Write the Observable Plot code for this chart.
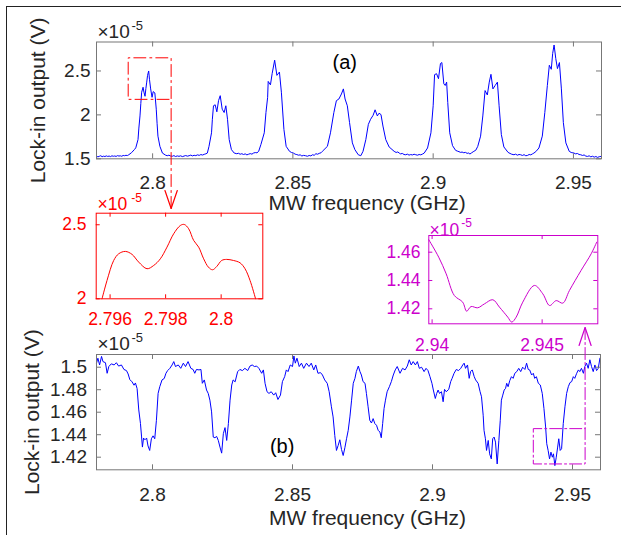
<!DOCTYPE html>
<html>
<head>
<meta charset="utf-8">
<script src="https://cdn.jsdelivr.net/npm/d3@7"></script>
<script src="https://cdn.jsdelivr.net/npm/@observablehq/plot@0.6"></script>
<style>
  html, body { margin: 0; padding: 0; background: #fff; }
  #fig { position: relative; width: 621px; height: 535px; overflow: hidden; background: #fff; }
  #fig svg { position: absolute; left: 0; top: 0; }
  #border { position: absolute; left: 6px; top: 6px; width: 800px; height: 800px; border-left: 1px solid #222; border-top: 1px solid #222; }
</style>
</head>
<body>
<div id="fig"><div id="border"></div></div>
<script>
// ---------------- data ----------------
// Panel (a): lock-in output (×1e-5 V) vs MW frequency (GHz)
const curveA = [
  [2.7800,1.531],[2.7805,1.522],[2.7810,1.528],[2.7815,1.535],[2.7820,1.524],[2.7825,1.530],[2.7830,1.526],[2.7835,1.533],
  [2.7840,1.527],[2.7845,1.531],[2.7850,1.525],[2.7855,1.534],[2.7860,1.529],[2.7865,1.532],[2.7870,1.527],[2.7875,1.536],
  [2.7880,1.531],[2.7885,1.534],[2.7890,1.529],[2.7895,1.538],[2.7900,1.535],[2.7905,1.540],[2.7910,1.537],[2.7915,1.546],
  [2.7925,1.570],[2.7935,1.605],[2.7940,1.625],[2.7948,1.719],[2.7951,1.850],[2.7955,1.988],[2.7958,2.130],[2.7961,2.258],
  [2.7966,2.315],[2.7969,2.260],[2.7973,2.212],[2.7976,2.300],[2.7979,2.373],[2.7982,2.450],[2.7986,2.500],[2.7989,2.400],
  [2.7993,2.296],[2.7998,2.200],[2.8002,2.265],[2.8008,2.250],[2.8013,2.065],[2.8016,1.900],[2.8019,1.758],[2.8026,1.642],
  [2.8035,1.565],[2.8046,1.542],[2.8052,1.535],[2.8058,1.541],[2.8064,1.532],[2.8070,1.529],[2.8076,1.536],[2.8082,1.526],
  [2.8088,1.533],[2.8094,1.528],[2.8100,1.534],[2.8106,1.525],[2.8112,1.531],[2.8118,1.537],[2.8124,1.530],[2.8130,1.535],
  [2.8136,1.542],[2.8142,1.533],[2.8148,1.540],[2.8154,1.536],[2.8160,1.545],[2.8166,1.539],[2.8172,1.548],[2.8178,1.543],
  [2.8184,1.551],[2.8190,1.557],[2.8195,1.565],[2.8201,1.642],[2.8210,1.796],[2.8213,1.950],[2.8217,2.104],[2.8223,2.115],
  [2.8229,2.035],[2.8235,2.162],[2.8241,2.219],[2.8248,2.065],[2.8255,2.027],[2.8261,2.104],[2.8267,1.950],[2.8273,1.719],
  [2.8281,1.604],[2.8291,1.565],[2.8300,1.558],[2.8306,1.563],[2.8312,1.552],[2.8318,1.558],[2.8324,1.549],[2.8330,1.556],
  [2.8336,1.545],[2.8342,1.552],[2.8348,1.559],[2.8354,1.553],[2.8360,1.566],[2.8366,1.571],[2.8372,1.568],[2.8378,1.585],
  [2.8386,1.662],[2.8398,1.796],[2.8404,2.027],[2.8410,2.200],[2.8412,2.381],[2.8420,2.342],[2.8426,2.469],[2.8435,2.623],
  [2.8443,2.450],[2.8452,2.488],[2.8459,2.258],[2.8468,1.835],[2.8476,1.642],[2.8488,1.585],[2.8495,1.572],[2.8502,1.565],
  [2.8508,1.553],[2.8514,1.548],[2.8520,1.541],[2.8526,1.545],[2.8532,1.532],[2.8538,1.539],[2.8545,1.535],[2.8552,1.529],
  [2.8558,1.538],[2.8564,1.533],[2.8570,1.546],[2.8576,1.540],[2.8582,1.558],[2.8588,1.552],[2.8594,1.562],[2.8600,1.568],
  [2.8605,1.585],[2.8623,1.642],[2.8634,1.796],[2.8646,2.027],[2.8655,2.162],[2.8664,2.181],[2.8673,2.238],[2.8680,2.296],
  [2.8686,2.181],[2.8694,2.104],[2.8702,1.912],[2.8712,1.681],[2.8721,1.604],[2.8733,1.546],[2.8742,1.535],[2.8750,1.585],
  [2.8760,1.719],[2.8769,1.892],[2.8777,1.950],[2.8786,1.996],[2.8793,2.058],[2.8801,1.988],[2.8807,2.019],[2.8814,2.004],
  [2.8821,1.873],[2.8831,1.719],[2.8843,1.635],[2.8861,1.585],[2.8868,1.572],[2.8874,1.578],[2.8879,1.565],[2.8884,1.556],
  [2.8890,1.561],[2.8896,1.549],[2.8902,1.546],[2.8908,1.553],[2.8914,1.542],[2.8920,1.548],[2.8926,1.544],[2.8932,1.552],
  [2.8938,1.546],[2.8944,1.541],[2.8950,1.549],[2.8956,1.545],[2.8962,1.554],[2.8968,1.565],[2.8980,1.623],[2.8992,1.796],
  [2.9000,2.104],[2.9005,2.458],[2.9012,2.469],[2.9019,2.412],[2.9026,2.585],[2.9031,2.596],[2.9038,2.354],[2.9043,2.335],
  [2.9048,2.373],[2.9052,2.142],[2.9059,1.796],[2.9069,1.650],[2.9080,1.596],[2.9086,1.588],[2.9092,1.581],[2.9098,1.573],
  [2.9103,1.577],[2.9109,1.569],[2.9115,1.573],[2.9121,1.562],[2.9127,1.566],[2.9131,1.554],[2.9137,1.568],[2.9145,1.585],
  [2.9152,1.598],[2.9159,1.642],[2.9169,1.758],[2.9177,1.988],[2.9185,2.277],[2.9193,2.227],[2.9200,2.373],[2.9206,2.462],
  [2.9213,2.296],[2.9221,2.335],[2.9229,2.373],[2.9235,2.104],[2.9243,1.777],[2.9252,1.635],[2.9267,1.573],[2.9274,1.561],
  [2.9280,1.552],[2.9288,1.546],[2.9294,1.553],[2.9300,1.541],[2.9306,1.549],[2.9312,1.546],[2.9318,1.538],[2.9324,1.547],
  [2.9330,1.535],[2.9336,1.538],[2.9342,1.549],[2.9348,1.545],[2.9354,1.556],[2.9359,1.565],[2.9366,1.582],[2.9377,1.623],
  [2.9389,1.758],[2.9398,2.027],[2.9407,2.335],[2.9414,2.565],[2.9421,2.519],[2.9426,2.700],[2.9431,2.796],[2.9437,2.642],
  [2.9443,2.527],[2.9450,2.596],[2.9457,2.296],[2.9464,1.912],[2.9473,1.681],[2.9485,1.585],[2.9492,1.572],[2.9498,1.568],
  [2.9502,1.565],[2.9508,1.556],[2.9514,1.561],[2.9520,1.549],[2.9526,1.546],[2.9532,1.538],[2.9538,1.544],[2.9544,1.531],
  [2.9550,1.527],[2.9556,1.534],[2.9562,1.522],[2.9568,1.529],[2.9574,1.519],[2.9580,1.526],[2.9586,1.516],[2.9592,1.524],
  [2.9598,1.527],[2.9600,1.532]
];

// Panel (b)
const curveB = [
  [2.7800,1.5036],[2.7805,1.508],[2.7811,1.502],[2.7818,1.5096],[2.7823,1.505],[2.7832,1.504],[2.7838,1.4946],[2.7844,1.5006],
  [2.7853,1.503],[2.7863,1.502],[2.7871,1.504],[2.7879,1.501],[2.7889,1.502],[2.7898,1.498],[2.7907,1.497],[2.7913,1.494],
  [2.7919,1.489],[2.7927,1.487],[2.7934,1.484],[2.7939,1.486],[2.7945,1.481],[2.7951,1.462],[2.7957,1.450],[2.7961,1.438],
  [2.7964,1.429],[2.7968,1.437],[2.7973,1.4355],[2.7979,1.437],[2.7984,1.430],[2.7990,1.426],[2.7996,1.4364],[2.8002,1.439],
  [2.8008,1.4364],[2.8014,1.4528],[2.8020,1.4767],[2.8026,1.4827],[2.8034,1.4887],[2.8042,1.490],[2.8048,1.4946],[2.8054,1.497],
  [2.8062,1.499],[2.8070,1.502],[2.8076,1.505],[2.8082,1.5006],[2.8092,1.502],[2.8101,1.499],[2.8110,1.5036],[2.8118,1.5006],
  [2.8127,1.505],[2.8137,1.499],[2.8145,1.498],[2.8151,1.4946],[2.8157,1.498],[2.8166,1.4976],[2.8173,1.498],[2.8178,1.4857],
  [2.8185,1.4887],[2.8193,1.4797],[2.8199,1.4767],[2.8205,1.4707],[2.8211,1.4603],[2.8217,1.4379],[2.8223,1.4373],[2.8229,1.4385],
  [2.8235,1.4349],[2.8241,1.429],[2.8247,1.4236],[2.8253,1.4409],[2.8259,1.4463],[2.8265,1.4349],[2.8271,1.4499],[2.8277,1.4707],
  [2.8283,1.4842],[2.8288,1.4887],[2.8295,1.487],[2.8304,1.496],[2.8312,1.498],[2.8321,1.497],[2.8330,1.499],[2.8340,1.497],
  [2.8348,1.501],[2.8356,1.502],[2.8364,1.5006],[2.8372,1.501],[2.8380,1.499],[2.8390,1.4946],[2.8396,1.4976],[2.8402,1.4857],
  [2.8409,1.4782],[2.8416,1.4767],[2.8424,1.4782],[2.8433,1.4752],[2.8440,1.4773],[2.8448,1.4713],[2.8457,1.4752],[2.8464,1.4872],
  [2.8472,1.4916],[2.8478,1.4976],[2.8484,1.4961],[2.8492,1.502],[2.8500,1.5006],[2.8505,1.510],[2.8510,1.5036],[2.8516,1.508],
  [2.8524,1.5006],[2.8532,1.5036],[2.8540,1.499],[2.8550,1.5036],[2.8559,1.5006],[2.8567,1.5036],[2.8576,1.4976],[2.8583,1.502],
  [2.8591,1.4946],[2.8600,1.4952],[2.8607,1.4931],[2.8615,1.4887],[2.8624,1.4857],[2.8631,1.4782],[2.8639,1.4648],[2.8645,1.4558],
  [2.8651,1.4394],[2.8657,1.426],[2.8663,1.4304],[2.8669,1.4355],[2.8675,1.4269],[2.8681,1.4215],[2.8687,1.4284],[2.8693,1.4364],
  [2.8699,1.4439],[2.8705,1.4558],[2.8711,1.4707],[2.8717,1.4857],[2.8723,1.4901],[2.8728,1.4961],[2.8735,1.501],[2.8741,1.4961],
  [2.8746,1.4931],[2.8752,1.4872],[2.8759,1.4857],[2.8764,1.4767],[2.8770,1.4648],[2.8776,1.4528],[2.8782,1.4504],[2.8788,1.4543],
  [2.8794,1.4499],[2.8800,1.4484],[2.8806,1.4439],[2.8812,1.4424],[2.8817,1.4373],[2.8822,1.4499],[2.8827,1.4633],[2.8832,1.4707],
  [2.8838,1.4782],[2.8846,1.4827],[2.8853,1.4872],[2.8860,1.4931],[2.8867,1.4976],[2.8874,1.5006],[2.8884,1.4946],[2.8893,1.499],
  [2.8902,1.4976],[2.8910,1.501],[2.8917,1.5066],[2.8924,1.502],[2.8931,1.505],[2.8939,1.502],[2.8946,1.505],[2.8953,1.499],
  [2.8961,1.500],[2.8970,1.4961],[2.8977,1.499],[2.8984,1.497],[2.8991,1.4916],[2.8998,1.4857],[2.9003,1.4797],[2.9010,1.4722],
  [2.9015,1.4767],[2.9020,1.4797],[2.9025,1.4767],[2.9032,1.4782],[2.9038,1.4693],[2.9043,1.4803],[2.9049,1.4782],[2.9058,1.4803],
  [2.9065,1.4872],[2.9070,1.4901],[2.9077,1.4946],[2.9085,1.498],[2.9093,1.497],[2.9101,1.499],[2.9108,1.502],[2.9113,1.5036],
  [2.9118,1.499],[2.9125,1.502],[2.9131,1.4901],[2.9136,1.4961],[2.9142,1.4976],[2.9149,1.4916],[2.9154,1.4887],[2.9163,1.4857],
  [2.9170,1.4782],[2.9175,1.4737],[2.9181,1.4573],[2.9184,1.4439],[2.9189,1.4364],[2.9193,1.426],[2.9199,1.4349],[2.9204,1.423],
  [2.9210,1.4185],[2.9215,1.4364],[2.9220,1.4379],[2.9225,1.4334],[2.9231,1.414],[2.9237,1.4349],[2.9242,1.4528],[2.9246,1.4707],
  [2.9251,1.4752],[2.9256,1.4797],[2.9261,1.4812],[2.9265,1.4857],[2.9270,1.4827],[2.9276,1.4881],[2.9282,1.4916],[2.9288,1.4901],
  [2.9294,1.4946],[2.9301,1.4961],[2.9308,1.499],[2.9315,1.4961],[2.9322,1.500],[2.9330,1.498],[2.9336,1.5036],[2.9342,1.498],
  [2.9347,1.4976],[2.9354,1.4931],[2.9360,1.4946],[2.9365,1.4901],[2.9371,1.4916],[2.9378,1.4857],[2.9385,1.4842],[2.9392,1.4767],
  [2.9398,1.4633],[2.9404,1.4469],[2.9408,1.432],[2.9413,1.426],[2.9418,1.4185],[2.9423,1.4245],[2.9428,1.420],[2.9432,1.423],
  [2.9437,1.4125],[2.9442,1.420],[2.9447,1.429],[2.9451,1.4364],[2.9456,1.426],[2.9461,1.4275],[2.9467,1.4499],[2.9473,1.4648],
  [2.9479,1.4767],[2.9485,1.4827],[2.9491,1.4863],[2.9497,1.4872],[2.9503,1.4916],[2.9508,1.4901],[2.9515,1.4946],[2.9521,1.4976],
  [2.9526,1.4961],[2.9532,1.499],[2.9539,1.4946],[2.9544,1.5006],[2.9550,1.5036],[2.9556,1.499],[2.9562,1.5066],[2.9568,1.5006],
  [2.9574,1.4961],[2.9580,1.502],[2.9586,1.497],[2.9592,1.499],[2.9598,1.508]
];

// Inset of (a): zoom on the first resonance
const curveZoomA = [
  [2.79571,2.000],[2.79589,2.124],[2.79613,2.259],[2.79631,2.304],[2.79655,2.320],[2.79679,2.300],[2.79703,2.248],
  [2.79733,2.203],[2.79757,2.225],[2.79781,2.270],[2.79805,2.349],[2.79829,2.439],[2.79853,2.495],[2.79867,2.502],
  [2.79883,2.473],[2.79901,2.394],[2.79919,2.349],[2.79937,2.270],[2.79954,2.214],[2.79969,2.196],[2.79984,2.218],
  [2.80002,2.259],[2.80020,2.266],[2.80044,2.259],[2.80068,2.243],[2.80086,2.203],[2.80104,2.124],[2.80124,2.000]
];

// Inset of (b): zoom on the last resonance
const curveZoomB = [
  [2.93985,1.4688],[2.94030,1.4565],[2.94064,1.4447],[2.94101,1.4294],[2.94139,1.4247],[2.94157,1.4183],[2.94177,1.4216],
  [2.94207,1.4207],[2.94238,1.4235],[2.94276,1.4264],[2.94306,1.4212],[2.94344,1.4141],[2.94362,1.4106],[2.94382,1.4141],
  [2.94412,1.4247],[2.94465,1.4365],[2.94503,1.4306],[2.94534,1.4223],[2.94564,1.4258],[2.94594,1.4240],[2.94624,1.4329],
  [2.94677,1.4471],[2.94723,1.4589],[2.94748,1.4671]
];

// ticks
const xTicksMain = [2.8, 2.85, 2.9, 2.95];
const yTicksA = [1.5, 2, 2.5];
const yTicksB = [1.42, 1.44, 1.46, 1.48, 1.5];
const xTicksZoomA = [2.796, 2.798, 2.8];
const yTicksZoomA = [2, 2.5];
const xTicksZoomB = [2.94, 2.945];
const yTicksZoomB = [1.42, 1.44, 1.46];

// texts
const xLabel = "MW frequency (GHz)";
const yLabel = "Lock-in output (V)";
const expBase = "×10";
const expPower = "-5";
const labelA = {text: "(a)", f: 2.8685, v: 2.59};
const labelB = {text: "(b)", f: 2.8463, v: 1.4295};

// zoom annotations (in the data units of their panel)
const zoomBoxA = {x1: 2.7913, x2: 2.8066, y1: 2.177, y2: 2.65, tip: 0.934, wing: 1.139, half: 0.0022};
const zoomBoxB = {x1: 2.9360, x2: 2.9545, y1: 1.4140, y2: 1.4454, tip: 1.5353, wing: 1.5193, half: 0.00215};

// ---------------- drawing ----------------
const W = 621, H = 535;
const FONT = "'Liberation Sans', Arial, Helvetica, sans-serif";
const BLUE = "#0000ff", RED = "#ff0000", MAG = "#cc00cc", GREY = "#777777", TXT = "#262626";
const fig = document.getElementById("fig");
const px = d => d[0], py = d => d[1];

function panel(cfg) {
  const [L, T, R, B] = cfg.frame;
  const iw = R - L, ih = B - T, tl = cfg.tickLen;
  const svg = Plot.plot({
    width: W, height: H,
    marginLeft: L, marginTop: T, marginRight: W - R, marginBottom: H - B,
    x: {domain: cfg.xDomain},
    y: {domain: cfg.yDomain},
    style: {background: "transparent", fontFamily: FONT, fontSize: cfg.tickFont + "px", overflow: "visible"},
    marks: [
      ...cfg.marks,
      Plot.frame({stroke: cfg.frameColor}),
      Plot.tickX(cfg.xTicks, {x: d => d, insetTop: ih - tl, stroke: cfg.frameColor}),
      Plot.tickX(cfg.xTicks, {x: d => d, insetBottom: ih - tl, stroke: cfg.frameColor}),
      Plot.tickY(cfg.yTicks, {y: d => d, insetRight: iw - tl, stroke: cfg.frameColor}),
      Plot.tickY(cfg.yTicks, {y: d => d, insetLeft: iw - tl, stroke: cfg.frameColor}),
      Plot.axisX({ticks: cfg.xTicks, tickSize: 0, tickPadding: cfg.xPad, tickFormat: d => String(d), color: cfg.textColor, label: null}),
      Plot.axisY({ticks: cfg.yTicks, tickSize: 0, tickPadding: cfg.yPad, tickFormat: d => String(d), color: cfg.textColor, label: null}),
      Plot.text([expBase], {text: d => d, frameAnchor: "top-left", textAnchor: "start", lineAnchor: "top",
        dx: cfg.exp[0], dy: cfg.exp[1], fontSize: cfg.exp[2], fill: cfg.textColor}),
      Plot.text([expPower], {text: d => d, frameAnchor: "top-left", textAnchor: "start", lineAnchor: "top",
        dx: cfg.pow[0], dy: cfg.pow[1], fontSize: cfg.pow[2], fill: cfg.textColor}),
      ...(cfg.extra || [])
    ]
  });
  fig.appendChild(svg);
}

function boxPath(b, down) {
  // box outline plus its dash-dot leader line toward the inset
  return down
    ? [[b.x2, b.tip], [b.x2, b.y2], [b.x1, b.y2], [b.x1, b.y1], [b.x2, b.y1]]
    : [[b.x2, b.tip], [b.x2, b.y1], [b.x1, b.y1], [b.x1, b.y2], [b.x2, b.y2]];
}
function headPath(b) {
  return [[b.x2 - b.half, b.wing], [b.x2, b.tip], [b.x2 + b.half, b.wing]];
}

// Panel (a)
panel({
  frame: [96, 41.5, 601, 158.3],
  xDomain: [2.78, 2.96], yDomain: [1.5, 2.83],
  xTicks: xTicksMain, yTicks: yTicksA, tickLen: 5,
  frameColor: GREY, textColor: TXT, tickFont: 19, xPad: 16.7, yPad: 6,
  exp: [1, -17.5, 19], pow: [35, -21, 13],
  marks: [
    Plot.line(curveA, {x: px, y: py, stroke: BLUE, strokeWidth: 1})
  ],
  extra: [
    Plot.line(boxPath(zoomBoxA, true), {x: px, y: py, stroke: RED, strokeWidth: 1, strokeDasharray: "12,4,2,4"}),
    Plot.line(headPath(zoomBoxA), {x: px, y: py, stroke: RED, strokeWidth: 1.2}),
    Plot.text([labelA], {x: "f", y: "v", text: "text", fontSize: 20, fill: "#000", lineAnchor: "middle"}),
    Plot.text([xLabel], {text: d => d, frameAnchor: "bottom", lineAnchor: "top", dx: 18.2, dy: 36.7, fontSize: 21, fill: TXT}),
    Plot.text([yLabel], {text: d => d, frameAnchor: "left", rotate: -90, textAnchor: "middle", lineAnchor: "top", dx: -66.7, fontSize: 21, fill: TXT})
  ]
});

// Panel (b)
panel({
  frame: [96, 354, 600, 469.3],
  xDomain: [2.78, 2.96], yDomain: [1.4088, 1.5113],
  xTicks: xTicksMain, yTicks: yTicksB, tickLen: 5,
  frameColor: GREY, textColor: TXT, tickFont: 19, xPad: 17.4, yPad: 9.5,
  exp: [1, -18, 19], pow: [35, -21.5, 13],
  marks: [
    Plot.line(curveB, {x: px, y: py, stroke: BLUE, strokeWidth: 1})
  ],
  extra: [
    Plot.line(boxPath(zoomBoxB, false), {x: px, y: py, stroke: MAG, strokeWidth: 1, strokeDasharray: "12,3,2,3"}),
    Plot.line(headPath(zoomBoxB), {x: px, y: py, stroke: MAG, strokeWidth: 1.2}),
    Plot.text([labelB], {x: "f", y: "v", text: "text", fontSize: 20, fill: "#000", lineAnchor: "middle"}),
    Plot.text([xLabel], {text: d => d, frameAnchor: "bottom", lineAnchor: "top", dx: 19, dy: 40.7, fontSize: 21, fill: TXT}),
    Plot.text([yLabel], {text: d => d, frameAnchor: "left", rotate: -90, textAnchor: "middle", lineAnchor: "top", dx: -72.7, fontSize: 21, fill: TXT})
  ]
});

// Inset of (a)
panel({
  frame: [95.7, 212.7, 262.3, 298.3],
  xDomain: [2.7955, 2.8015], yDomain: [2, 2.578],
  xTicks: xTicksZoomA, yTicks: yTicksZoomA, tickLen: 4,
  frameColor: RED, textColor: RED, tickFont: 17.5, xPad: 13.4, yPad: 9.7,
  exp: [1.3, -16, 17.5], pow: [35, -20, 12],
  marks: [
    Plot.line(curveZoomA, {x: px, y: py, stroke: RED, strokeWidth: 1, curve: "catmull-rom"})
  ]
});

// Inset of (b)
panel({
  frame: [428.3, 235, 597.3, 323.3],
  xDomain: [2.93985, 2.94753], yDomain: [1.4094, 1.4718],
  xTicks: xTicksZoomB, yTicks: yTicksZoomB, tickLen: 4,
  frameColor: MAG, textColor: MAG, tickFont: 17.5, xPad: 15, yPad: 8.3,
  exp: [0.7, -12.3, 17.5], pow: [32.5, -17, 12],
  marks: [
    Plot.line(curveZoomB, {x: px, y: py, stroke: MAG, strokeWidth: 1, curve: "catmull-rom"})
  ]
});
</script>
</body>
</html>
